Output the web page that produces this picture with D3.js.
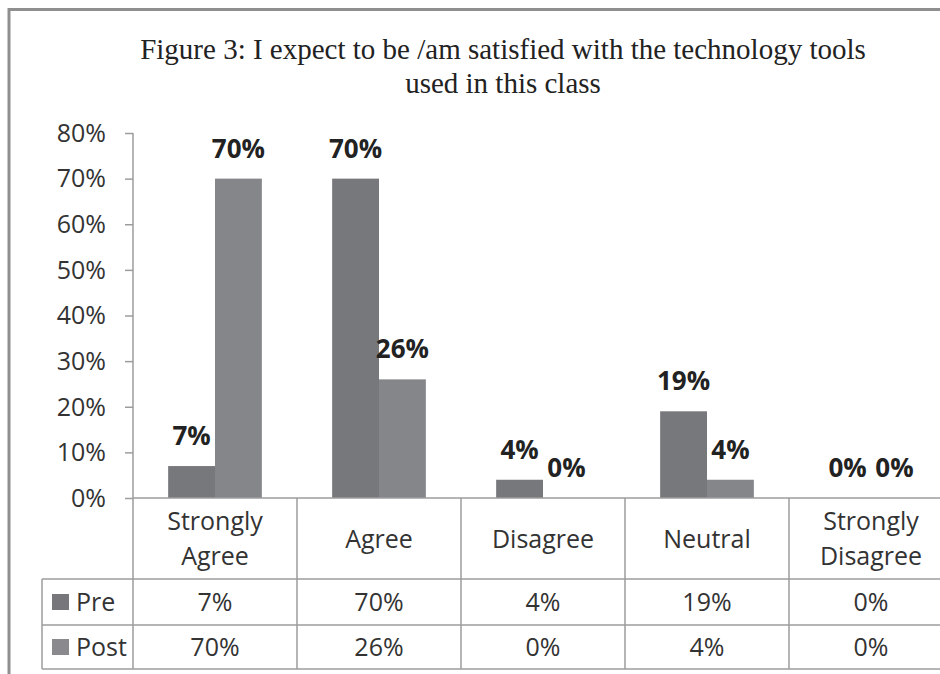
<!DOCTYPE html>
<html>
<head>
<meta charset="utf-8">
<script src="https://cdn.jsdelivr.net/npm/d3@7"></script>
<style>
  html, body { margin: 0; padding: 0; background: #ffffff; }
  svg { display: block; }
</style>
</head>
<body>
<svg id="chart" width="940" height="674"></svg>
<script>
// Survey responses, share of students per answer
const categories = [["Strongly", "Agree"], ["Agree"], ["Disagree"], ["Neutral"], ["Strongly", "Disagree"]];
const seriesNames = ["Pre", "Post"];
const preValues = [0.07, 0.70, 0.04, 0.19, 0.00];
const postValues = [0.70, 0.26, 0.00, 0.04, 0.00];
const yTicks = [0, 0.1, 0.2, 0.3, 0.4, 0.5, 0.6, 0.7, 0.8];
const titleLines = ["Figure 3: I expect to be /am satisfied with the technology tools", "used in this class"];

const series = [
  { name: seriesNames[0], values: preValues, color: "#77787c", key: "#77777b" },
  { name: seriesNames[1], values: postValues, color: "#85868a", key: "#8a8a8e" }
];

const svg = d3.select("#chart");
const W = 940, H = 674;
const sans = "'Open Sans', 'DejaVu Sans', sans-serif";
const gridColor = "#9d9d9d";
const textColor = "#333333";

svg.append("rect").attr("width", W).attr("height", H).attr("fill", "#ffffff");

// outer chart frame (runs off the right and bottom edges)
svg.append("rect")
  .attr("x", 9).attr("y", 9.5)
  .attr("width", 1000).attr("height", 1000)
  .attr("fill", "none")
  .attr("stroke", "#8f8f8f").attr("stroke-width", 3);

// title
svg.append("g").selectAll("text")
  .data(titleLines)
  .join("text")
  .attr("x", 503)
  .attr("y", (d, i) => 59 + i * 34)
  .attr("text-anchor", "middle")
  .attr("font-family", "'Liberation Serif', 'Times New Roman', serif")
  .attr("font-size", 29)
  .attr("fill", "#222")
  .text(d => d);

// plot geometry
const plotLeft = 133, colW = 164;
const plotTop = 133, base = 498;
const x = d3.scaleBand()
  .domain(d3.range(categories.length))
  .range([plotLeft, plotLeft + colW * categories.length])
  .paddingInner(0).paddingOuter(0);
const xs = d3.scaleBand()
  .domain(seriesNames)
  .range([0, x.bandwidth()])
  .paddingInner(0).paddingOuter(0.75);
const y = d3.scaleLinear().domain([0, 0.8]).range([base, plotTop]);

// y axis
const yAxis = d3.axisLeft(y)
  .tickValues(yTicks)
  .tickFormat(d3.format(".0%"))
  .tickSize(8)
  .tickPadding(19);
const ya = svg.append("g").attr("transform", `translate(${plotLeft},0)`).call(yAxis);
ya.select(".domain").remove();
ya.selectAll(".tick line").attr("stroke", gridColor).attr("stroke-width", 1.5);
ya.selectAll(".tick text")
  .attr("font-family", sans).attr("font-size", 25)
  .attr("fill", textColor).attr("dy", "0.33em");

// bars
const groups = svg.append("g").selectAll("g")
  .data(series)
  .join("g")
  .attr("fill", d => d.color);
groups.selectAll("rect")
  .data(s => s.values.map((v, i) => ({ s, v, i })))
  .join("rect")
  .attr("x", d => x(d.i) + xs(d.s.name))
  .attr("width", xs.bandwidth())
  .attr("y", d => y(d.v))
  .attr("height", d => base - y(d.v));

// value labels above bars
const fmt = d3.format(".0%");
svg.append("g").selectAll("text")
  .data(series.flatMap(s => s.values.map((v, i) => ({ s, v, i }))))
  .join("text")
  .attr("x", d => x(d.i) + xs(d.s.name) + xs.bandwidth() / 2)
  .attr("y", d => y(d.v) - 21)
  .attr("text-anchor", "middle")
  .attr("font-family", sans).attr("font-size", 26).attr("font-weight", 700)
  .attr("fill", "#222")
  .text(d => fmt(d.v));

// data table
const rowHead = 579, rowPre = 625, rowPost = 669;
const keyLeft = 42;
const plotRight = plotLeft + colW * categories.length;
const grid = svg.append("g").attr("stroke", gridColor).attr("stroke-width", 1.5).attr("fill", "none");
grid.append("line").attr("x1", plotLeft).attr("x2", plotRight).attr("y1", base).attr("y2", base);
[rowHead, rowPre, rowPost].forEach(yy => {
  grid.append("line").attr("x1", keyLeft).attr("x2", plotRight).attr("y1", yy).attr("y2", yy);
});
grid.append("line").attr("x1", keyLeft).attr("x2", keyLeft).attr("y1", rowHead).attr("y2", rowPost);
grid.append("line").attr("x1", plotLeft).attr("x2", plotLeft).attr("y1", plotTop).attr("y2", rowPost);
d3.range(1, categories.length + 1).forEach(i => {
  const xx = plotLeft + colW * i;
  grid.append("line").attr("x1", xx).attr("x2", xx).attr("y1", base).attr("y2", rowPost);
});

// category headers
const headMid = (base + rowHead) / 2;
svg.append("g").selectAll("text")
  .data(categories)
  .join("text")
  .attr("x", (d, i) => x(i) + x.bandwidth() / 2)
  .attr("y", d => headMid + 9 - (d.length - 1) * 17.5)
  .attr("text-anchor", "middle")
  .attr("font-family", sans).attr("font-size", 25)
  .attr("fill", textColor)
  .each(function (d) {
    const cx = d3.select(this).attr("x");
    d3.select(this).selectAll("tspan")
      .data(d)
      .join("tspan")
      .attr("x", cx)
      .attr("dy", (t, j) => j === 0 ? 0 : 35)
      .text(t => t);
  });

// table rows: legend key + values
const rowMids = [(rowHead + rowPre) / 2, (rowPre + rowPost) / 2];
series.forEach((s, r) => {
  const cy = rowMids[r];
  svg.append("rect")
    .attr("x", 52).attr("y", cy - 8)
    .attr("width", 17).attr("height", 16)
    .attr("fill", s.key);
  svg.append("text")
    .attr("x", 76).attr("y", cy + 9)
    .attr("font-family", sans).attr("font-size", 25)
    .attr("fill", textColor)
    .text(s.name);
  svg.append("g").selectAll("text")
    .data(s.values)
    .join("text")
    .attr("x", (v, i) => x(i) + x.bandwidth() / 2)
    .attr("y", cy + 9)
    .attr("text-anchor", "middle")
    .attr("font-family", sans).attr("font-size", 25)
    .attr("fill", textColor)
    .text(v => fmt(v));
});
</script>
</body>
</html>
